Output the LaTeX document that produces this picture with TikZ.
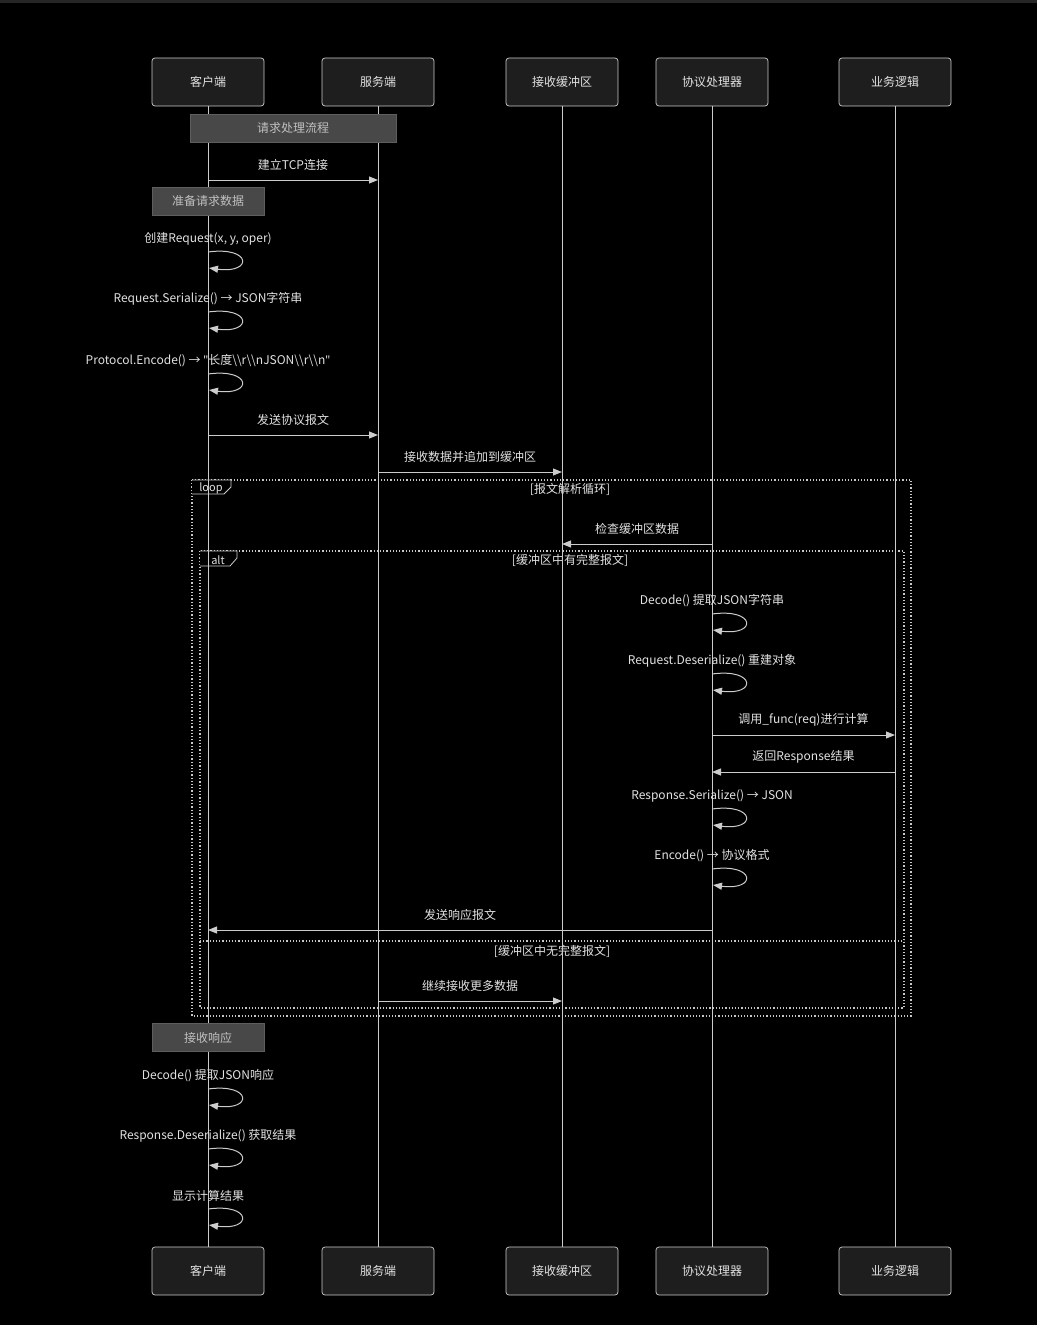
\documentclass[tikz,border=0pt]{standalone}
\usepackage{fontspec}
\setmainfont{Noto Sans CJK SC}
\newfontfamily\latinf{Noto Sans}
\usetikzlibrary{arrows.meta,calc}
\definecolor{lineclr}{HTML}{CCCCCC}
\definecolor{txt}{HTML}{E2E2E2}
\definecolor{actfill}{HTML}{1E1E1E}
\definecolor{notefill}{HTML}{484848}
\definecolor{notedraw}{HTML}{5E5E5E}
\definecolor{framec}{HTML}{C8C8C8}
\definecolor{topbar}{HTML}{262626}
\newcommand\seqmsg[4]{%
  \draw[msgline] (#1 |- 0,#3) -- (#2 |- 0,#3) node[midway, yshift=15pt, text=txt] {#4};}
\newcommand\selfmsg[3]{%
  \node[text=txt] at ($(#1 |- 0,#2)+(0,-13)$) {#3};
  \draw[msgline] (#1 |- 0,#2) .. controls +(44,-6) and +(44,6) .. ($(#1 |- 0,#2)+(1,16)$);}
\newcommand\bsl{\textbackslash\textbackslash}
\begin{document}
\begin{tikzpicture}[x=1pt,y=-1pt,
  every node/.style={font=\fontsize{12}{14}\selectfont, text=txt},
  actor/.style={draw=lineclr, fill=actfill, rounded corners=3pt, minimum width=112pt, minimum height=48pt, line width=0.7pt, inner sep=0pt},
  note/.style={draw=notedraw, fill=notefill, minimum height=28pt, inner sep=0pt, line width=1pt, text=txt!85!black},
  life/.style={draw=lineclr, line width=1pt},
  msgline/.style={draw=lineclr, line width=1pt, -{Triangle[length=9pt,width=7pt]}},
  frame/.style={draw=framec, dotted, line width=1.2pt},
  tabst/.style={draw=lineclr, fill=black, line width=0.8pt},
  small/.style={font=\fontsize{11}{13}\selectfont}
]
\useasboundingbox (0,0) rectangle (1036,1325);
\fill[black] (-5,-5) rectangle (1045,1335);
\fill[topbar] (-5,-5) rectangle (1045,3);

% participants
\node[actor] (c1) at (208,82) {客户端};
\node[actor] (s1) at (378,82) {服务端};
\node[actor] (b1) at (562,82) {接收缓冲区};
\node[actor] (p1) at (712,82) {协议处理器};
\node[actor] (l1) at (895,82) {业务逻辑};
\node[actor] (c2) at (208,1271) {客户端};
\node[actor] (s2) at (378,1271) {服务端};
\node[actor] (b2) at (562,1271) {接收缓冲区};
\node[actor] (p2) at (712,1271) {协议处理器};
\node[actor] (l2) at (895,1271) {业务逻辑};

% frames
\draw[frame] (192,480) rectangle (911,1016);
\draw[tabst] (192,480) -- (231,480) -- (231,487) -- (224,494) -- (192,494);
\node[small] (looplbl) at (211,488.5) {loop};
\node (loopcond) at (570,489.5) {[报文解析循环]};
\draw[frame] (200,551) rectangle (904,1008);
\draw[tabst] (200,551) -- (237,551) -- (237,558) -- (230,566) -- (200,566);
\node[small] (altlbl) at (218,560) {alt};
\node (altcond1) at (570,560.5) {[缓冲区中有完整报文]};
\draw[frame] (200,941) -- (904,941);
\node (altcond2) at (552,951.5) {[缓冲区中无完整报文]};

% lifelines
\draw[life] (c1.south) -- (c2.north);
\draw[life] (s1.south) -- (s2.north);
\draw[life] (b1.south) -- (b2.north);
\draw[life] (p1.south) -- (p2.north);
\draw[life] (l1.south) -- (l2.north);

% notes
\node[note, minimum width=206pt] (n1) at (293,128) {请求处理流程};
\node[note, minimum width=112pt] (n2) at (208,201) {准备请求数据};
\node[note, minimum width=112pt] (n3) at (208,1037.5) {接收响应};

% messages
\seqmsg{c1}{s1}{180}{建立TCP连接}
\selfmsg{c1}{252}{创建Request(x, y, oper)}
\selfmsg{c1}{312}{Request.Serialize() → JSON字符串}
\selfmsg{c1}{374}{Protocol.Encode() → {\latinf"}长度\bsl r\bsl nJSON\bsl r\bsl n{\latinf"}}
\seqmsg{c1}{s1}{435}{发送协议报文}
\seqmsg{s1}{b1}{472}{接收数据并追加到缓冲区}
\seqmsg{p1}{b1}{544}{检查缓冲区数据}
\selfmsg{p1}{614}{Decode() 提取JSON字符串}
\selfmsg{p1}{674}{Request.Deserialize() 重建对象}
\seqmsg{p1}{l1}{735}{调用\_func(req)进行计算}
\seqmsg{l1}{p1}{772}{返回Response结果}
\selfmsg{p1}{809}{Response.Serialize() → JSON}
\selfmsg{p1}{869}{Encode() → 协议格式}
\seqmsg{p1}{c1}{930}{发送响应报文}
\seqmsg{s1}{b1}{1001}{继续接收更多数据}
\selfmsg{c1}{1089}{Decode() 提取JSON响应}
\selfmsg{c1}{1149}{Response.Deserialize() 获取结果}
\selfmsg{c1}{1209}{显示计算结果}
\end{tikzpicture}
\end{document}
